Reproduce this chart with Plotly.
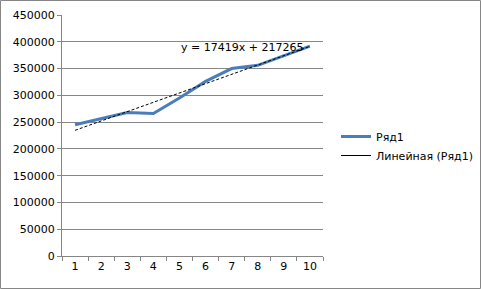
import plotly.graph_objects as go

categories = ["1", "2", "3", "4", "5", "6", "7", "8", "9", "10"]
series_values = [245000, 257000, 268000, 266000, 295000, 326000, 350000, 356000, 374000, 392000]
trend_slope = 17419
trend_intercept = 217265
y_ticks = [0, 50000, 100000, 150000, 200000, 250000, 300000, 350000, 400000, 450000]

x_num = list(range(1, len(categories) + 1))
trend_values = [trend_slope * x + trend_intercept for x in x_num]

W, H = 481, 289
L, R, T, B = 62, 158, 15, 33
pw, ph = W - L - R, H - T - B

FONT = "DejaVu Sans"
GRID = "#868686"

fig = go.Figure()
fig.add_trace(go.Scatter(x=categories, y=series_values, mode="lines", name="Ряд1",
                         line=dict(color="#4a7ebb", width=3)))
fig.add_trace(go.Scatter(x=categories, y=trend_values, mode="lines", name="Линейная (Ряд1)",
                         showlegend=False,
                         line=dict(color="black", width=1, dash="3px,2px")))
# legend entry for the trendline (solid sample as in the reference)
fig.add_trace(go.Scatter(x=[categories[0]], y=[None], mode="lines", name="Линейная (Ряд1)",
                         line=dict(color="black", width=1)))

fig.add_annotation(text="y = 17419x + 217265", xref="paper", yref="paper",
                   x=(242 - L) / pw, y=(256 - 48) / ph, xanchor="center", yanchor="middle",
                   showarrow=False,
                   font=dict(family=FONT, size=11, color="black"))

fig.add_shape(type="rect", xref="paper", yref="paper",
              x0=(0.5 - L) / pw, x1=(W - 0.5 - L) / pw,
              y0=-(H - 0.5 - T - ph) / ph, y1=(T - 0.5 + ph) / ph,
              line=dict(color=GRID, width=1))

fig.update_layout(
    width=W, height=H,
    margin=dict(l=L, r=R, t=T, b=B, pad=0, autoexpand=False),
    paper_bgcolor="white", plot_bgcolor="white",
    font=dict(family=FONT, size=11, color="black"),
    showlegend=True,
    legend=dict(x=(336 - L) / pw, y=(256 - 122) / ph, xanchor="left", yanchor="top",
                bgcolor="rgba(0,0,0,0)", font=dict(family=FONT, size=11),
                tracegroupgap=4, itemwidth=30),
    xaxis=dict(type="category", range=[-0.5, 9.5], tickson="boundaries", ticks="outside",
               ticklen=4, tickcolor=GRID, showline=True, linecolor=GRID, linewidth=1,
               showgrid=False, zeroline=False, tickfont=dict(family=FONT, size=11)),
    yaxis=dict(range=[0, 450000], tickvals=y_ticks, ticktext=[str(v) for v in y_ticks],
               ticks="outside", ticklen=4, tickcolor=GRID, showline=True, linecolor=GRID,
               linewidth=1, showgrid=True, gridcolor=GRID, gridwidth=1, zeroline=False,
               tickfont=dict(family=FONT, size=11)),
)

fig.write_html("out.html")
